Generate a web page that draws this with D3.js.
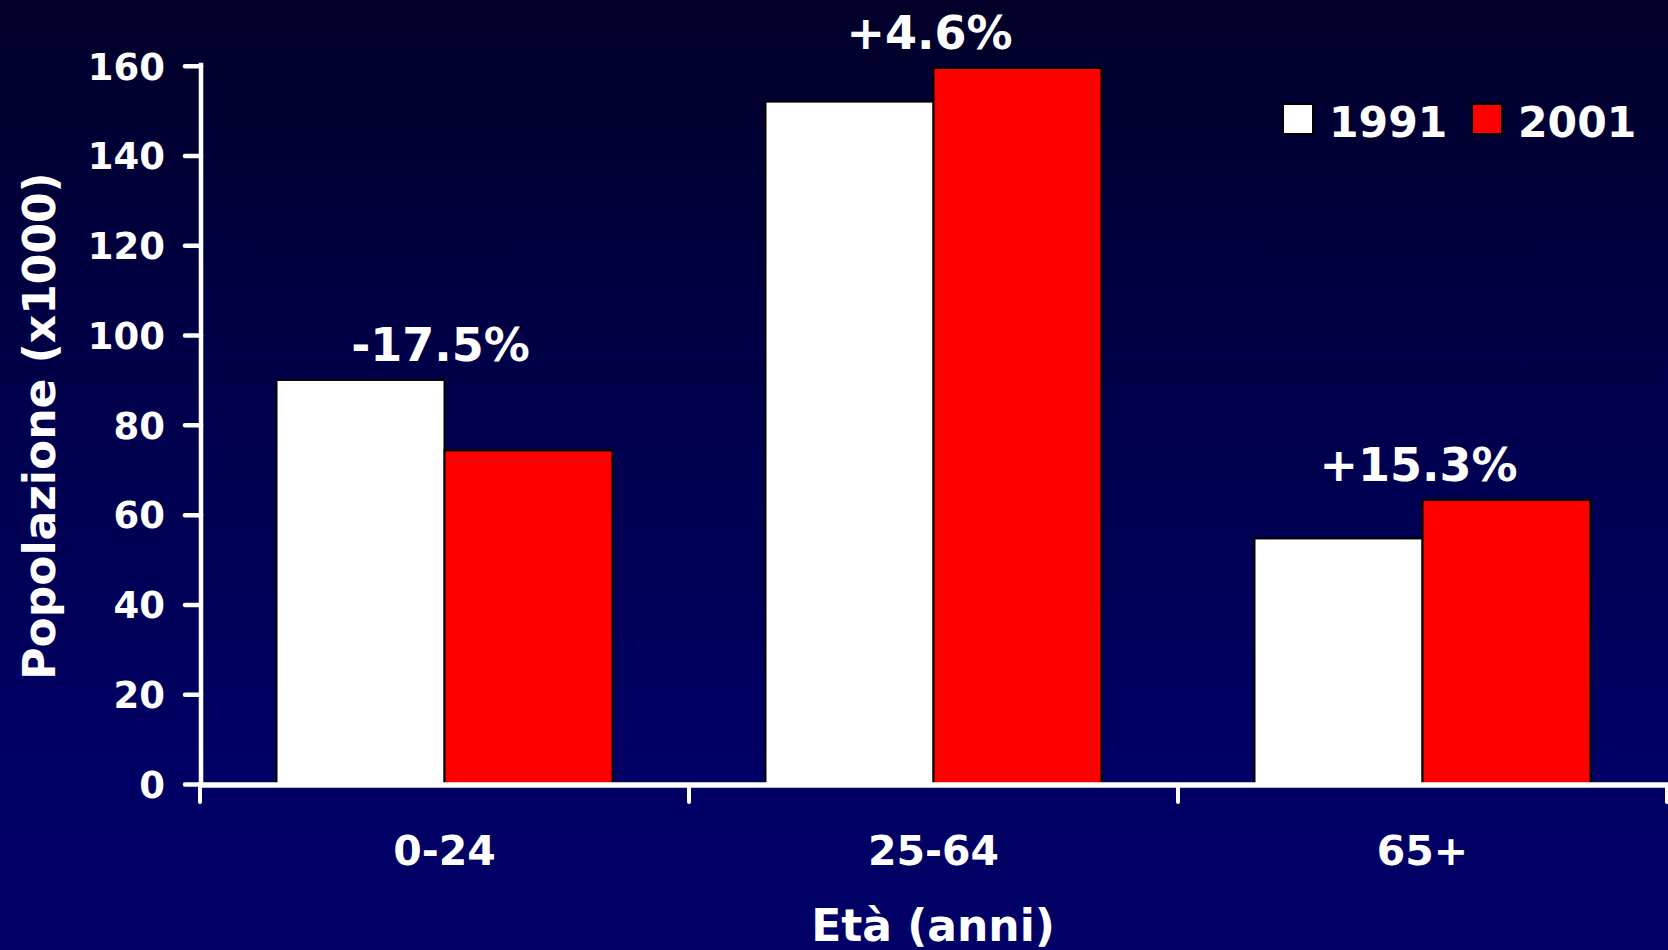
<!DOCTYPE html>
<html>
<head>
<meta charset="utf-8">
<script src="https://cdn.jsdelivr.net/npm/d3@7"></script>
<style>
html,body{margin:0;padding:0;background:#000040;}
svg{display:block;}
text{font-family:"DejaVu Sans",Verdana,sans-serif;font-weight:bold;fill:#fff;}
</style>
</head>
<body>
<svg id="chart" width="1668" height="950"></svg>
<script>
const categories = ["0-24", "25-64", "65+"];
const seriesNames = ["1991", "2001"];
const values1991 = [90, 152, 54.7];
const values2001 = [74.3, 159.5, 63.3];
const changeLabels = ["-17.5%", "+4.6%", "+15.3%"];
const yTicks = [0, 20, 40, 60, 80, 100, 120, 140, 160];
const seriesColors = ["#ffffff", "#ff0000"];

const W = 1668, H = 950;
const svg = d3.select("#chart");

const defs = svg.append("defs");
const grad = defs.append("linearGradient").attr("id", "bg").attr("x1", 0).attr("y1", 0).attr("x2", 0).attr("y2", 1);
grad.append("stop").attr("offset", "0%").attr("stop-color", "#020028");
grad.append("stop").attr("offset", "45%").attr("stop-color", "#00004e");
grad.append("stop").attr("offset", "80%").attr("stop-color", "#000064");
grad.append("stop").attr("offset", "100%").attr("stop-color", "#000066");
svg.append("rect").attr("width", W).attr("height", H).attr("fill", "url(#bg)");

const x0 = 200, x1 = 1667, yBottom = 784, yTop = 65.7;
const x = d3.scaleBand().domain(categories).range([x0, x1]).padding(0);
const xs = d3.scaleBand().domain(seriesNames).range([76.5, x.bandwidth() - 76.5]).padding(0);
const y = d3.scaleLinear().domain([0, 160]).range([yBottom, yTop]);

const data = categories.map((c, i) => ({cat: c, vals: [values1991[i], values2001[i]], label: changeLabels[i]}));

// bars
const groups = svg.append("g").selectAll("g").data(data).join("g")
  .attr("transform", d => `translate(${x(d.cat)},0)`);
groups.selectAll("rect").data(d => d.vals.map((v, j) => ({s: seriesNames[j], v, j})))
  .join("rect")
  .attr("x", d => xs(d.s))
  .attr("width", xs.bandwidth())
  .attr("y", d => y(d.v))
  .attr("height", d => y(0) - y(d.v))
  .attr("fill", d => seriesColors[d.j])
  .attr("stroke", "#000")
  .attr("stroke-width", 2);

// change labels
groups.append("text")
  .attr("x", x.bandwidth() / 2 - 4)
  .attr("y", d => y(d3.max(d.vals)) - 19)
  .attr("text-anchor", "middle")
  .attr("font-size", 46)
  .text(d => d.label);

// y axis
const yAxis = d3.axisLeft(y).tickValues(yTicks).tickSize(16).tickPadding(20);
const gy = svg.append("g").attr("transform", `translate(${x0 + 1},0)`).call(yAxis);
gy.select(".domain").attr("stroke", "#fff").attr("stroke-width", 4.5).attr("d", `M0,${yTop - 3}V${yBottom + 3}`);
gy.selectAll(".tick line").attr("stroke", "#fff").attr("stroke-width", 4.5).attr("stroke-linecap", "round");
gy.selectAll(".tick text").attr("font-size", 37).attr("fill", "#fff").attr("dy", "0.36em")
  .style("font-family", "DejaVu Sans").style("font-weight", "bold");

// x axis
const xAxis = d3.axisBottom(x).tickSize(0).tickFormat("");
const gx = svg.append("g").attr("transform", `translate(0,${yBottom + 1})`).call(xAxis);
gx.select(".domain").attr("stroke", "#fff").attr("stroke-width", 5.5).attr("d", `M${x0 - 2},0H${W}`);
gx.selectAll(".tick").remove();
const edges = categories.map(c => x(c)).concat([x(categories[categories.length - 1]) + x.bandwidth()]);
gx.selectAll("line.edge").data(edges).join("line")
  .attr("class", "edge")
  .attr("x1", d => d).attr("x2", d => d)
  .attr("y1", 0).attr("y2", 17)
  .attr("stroke", "#fff").attr("stroke-width", 4).attr("stroke-linecap", "round");

svg.append("g").selectAll("text").data(categories).join("text")
  .attr("x", d => x(d) + x.bandwidth() / 2)
  .attr("y", 865)
  .attr("text-anchor", "middle")
  .attr("font-size", 41)
  .text(d => d);

// axis titles
svg.append("text")
  .attr("x", 933).attr("y", 941)
  .attr("text-anchor", "middle")
  .attr("font-size", 44)
  .text("Età (anni)");

svg.append("text")
  .attr("transform", "translate(55,426) rotate(-90)")
  .attr("text-anchor", "middle")
  .attr("font-size", 44)
  .text("Popolazione (x1000)");

// legend
const legendX = [1283, 1472];
const lg = svg.append("g").selectAll("g").data(seriesNames).join("g")
  .attr("transform", (d, i) => `translate(${legendX[i]},104)`);
lg.append("rect").attr("width", 30).attr("height", 30)
  .attr("fill", (d, i) => seriesColors[i]).attr("stroke", "#000").attr("stroke-width", 2);
lg.append("text").attr("x", 46).attr("y", 32.5).attr("font-size", 42.5).text(d => d);
</script>
</body>
</html>
